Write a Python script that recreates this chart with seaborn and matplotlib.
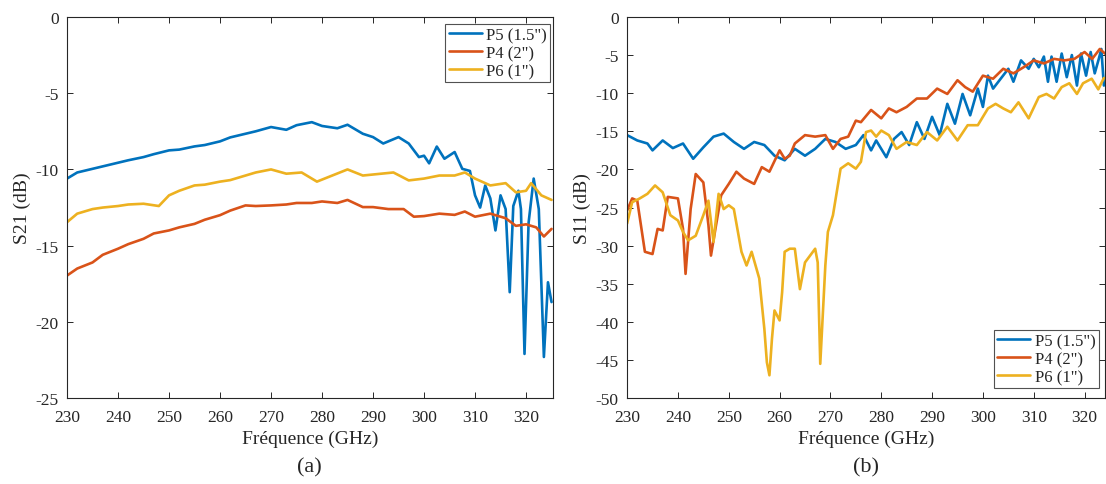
import numpy as np
import pandas as pd
import seaborn as sns
import matplotlib.pyplot as plt

# =========================
# 1. Data
# =========================
# (a) S21
s21_p5_f = [230, 232, 235, 237, 240, 242, 245, 247, 250, 252, 255, 257, 260, 262, 265, 267,
            270, 273, 275, 278, 280, 283, 285, 288, 290, 292, 295, 297, 299, 300, 301, 302.5,
            304, 306, 307.5, 309, 310, 311, 312, 313, 314, 315, 316, 316.8, 317.5, 318.5, 319,
            319.7, 320.5, 321.5, 322.5, 323.5, 324.3, 325]
s21_p5 = [-10.6, -10.2, -9.96, -9.8, -9.56, -9.4, -9.19, -9.0, -8.75, -8.7, -8.49, -8.4, -8.16, -7.9,
          -7.66, -7.5, -7.22, -7.4, -7.1, -6.9, -7.15, -7.3, -7.07, -7.66, -7.88, -8.3, -7.88, -8.3,
          -9.19, -9.1, -9.6, -8.5, -9.3, -8.86, -9.96, -10.1, -11.7, -12.5, -11.05, -11.9, -14.0,
          -11.7, -12.6, -18.05, -12.4, -11.4, -12.6, -22.1, -13.5, -10.6, -12.6, -22.3, -17.4, -18.7]

s21_p4_f = [230, 232, 235, 237, 240, 242, 245, 247, 250, 252, 255, 257, 260, 262, 265, 267, 270,
            273, 275, 278, 280, 283, 285, 288, 290, 293, 296, 298, 300, 303, 306, 308, 310, 313,
            316, 318, 320, 322, 323.5, 325]
s21_p4 = [-16.96, -16.5, -16.1, -15.6, -15.2, -14.9, -14.55, -14.2, -14.0, -13.8, -13.57, -13.3, -13.0,
          -12.7, -12.36, -12.4, -12.36, -12.3, -12.2, -12.2, -12.1, -12.2, -12.0, -12.47, -12.47, -12.6,
          -12.6, -13.1, -13.06, -12.9, -12.98, -12.76, -13.1, -12.9, -13.2, -13.7, -13.6, -13.8, -14.4,
          -13.9]

s21_p6_f = [230, 232, 235, 237, 240, 242, 245, 248, 250, 252, 255, 257, 260, 262, 265, 267, 270,
            273, 276, 279, 282, 285, 288, 291, 294, 297, 300, 303, 306, 308, 310, 313, 316, 318,
            320, 321, 323, 325]
s21_p6 = [-13.46, -12.9, -12.6, -12.5, -12.4, -12.3, -12.25, -12.4, -11.7, -11.4, -11.05, -11.0, -10.8,
          -10.7, -10.4, -10.2, -10.0, -10.28, -10.2, -10.8, -10.4, -10.0, -10.4, -10.3, -10.2, -10.72,
          -10.6, -10.4, -10.4, -10.2, -10.6, -11.05, -10.9, -11.5, -11.4, -10.9, -11.7, -12.0]

# (b) S11
s11_p5_f = [230, 232, 234, 235, 237, 239, 241, 243, 245, 247, 249, 251, 253, 255, 257, 259, 261,
            263, 265, 267, 269, 271, 273, 275, 276.5, 278, 279, 281, 282.5, 284, 285.5, 287, 288.5,
            290, 291.5, 293, 294.5, 296, 297.5, 299, 300, 301, 302, 303.5, 305, 306, 307.5, 309,
            310, 311, 312, 312.8, 313.5, 314.5, 315.5, 316.5, 317.5, 318.5, 319.3, 320.3, 321.2,
            322, 322.8, 323.3, 323.8]
s11_p5 = [-15.5, -16.2, -16.6, -17.5, -16.2, -17.2, -16.6, -18.6, -17.1, -15.7, -15.3, -16.4, -17.3,
          -16.4, -16.8, -18.2, -18.8, -17.3, -18.2, -17.3, -16.0, -16.4, -17.3, -16.8, -15.5, -17.5,
          -16.2, -18.4, -16.0, -15.1, -16.8, -13.8, -16.0, -13.1, -15.5, -11.4, -14.0, -10.1, -12.9,
          -9.4, -11.8, -7.7, -9.4, -8.1, -6.8, -8.5, -5.7, -6.8, -5.5, -6.6, -5.2, -8.5, -5.2, -8.5,
          -4.8, -7.9, -5.0, -9.0, -4.8, -7.7, -4.6, -7.4, -5.5, -4.2, -9.0]

s11_p4_f = [230, 231, 232, 233.5, 235, 236, 237, 238, 240, 241, 241.5, 242.5, 243.5, 245, 246,
            246.5, 247.5, 248.5, 250, 251.5, 253, 255, 256.5, 258, 260, 261, 262, 263, 265, 267,
            269, 270.5, 272, 273.5, 275, 276, 278, 280, 281.5, 283, 285, 287, 289, 291, 293, 295,
            296.5, 298, 300, 302, 304, 306, 308, 310, 312, 314, 316, 318, 320, 321.5, 323, 324]
s11_p4 = [-25.4, -23.8, -24.1, -30.8, -31.1, -27.8, -28.0, -23.6, -23.8, -27.8, -33.7, -25.2, -20.6,
          -21.7, -27.3, -31.3, -27.3, -23.4, -21.9, -20.3, -21.2, -21.9, -19.7, -20.3, -17.5, -18.6,
          -18.2, -16.6, -15.5, -15.7, -15.5, -17.3, -16.0, -15.7, -13.6, -13.8, -12.2, -13.3, -12.0,
          -12.5, -11.8, -10.7, -10.7, -9.4, -10.1, -8.3, -9.2, -9.8, -7.7, -8.1, -6.8, -7.4, -6.6,
          -5.7, -6.1, -5.5, -5.7, -5.5, -4.6, -5.5, -4.2, -4.8]

s11_p6_f = [230, 231, 232.5, 234, 235.5, 237, 238.5, 240, 241, 242, 243.5, 245, 246, 247, 248, 249,
            250, 251, 252.5, 253.5, 254.5, 256, 257, 257.5, 258, 258.5, 259, 260, 260.5, 261, 262,
            263, 264, 265, 266, 267, 267.5, 268, 269, 269.5, 270.5, 272, 273.5, 275, 276, 277, 278,
            279, 280, 281.5, 283, 285, 287, 289, 291, 293, 295, 297, 299, 301, 302.5, 304, 305.5,
            307, 309, 311, 312.5, 314, 315.5, 317, 318.5, 319.7, 321.4, 322.7, 323.8]
s11_p6 = [-27.1, -24.3, -23.8, -23.2, -22.1, -23.0, -26.0, -26.7, -28.2, -29.3, -28.7, -26.0, -24.1,
          -29.5, -23.2, -25.2, -24.7, -25.2, -30.8, -32.6, -30.8, -34.3, -40.9, -45.3, -47.0, -42.2,
          -38.5, -39.8, -36.1, -30.8, -30.4, -30.4, -35.7, -32.2, -31.3, -30.4, -32.2, -45.5, -32.6,
          -28.2, -26.0, -19.9, -19.2, -19.9, -19.0, -15.1, -14.9, -15.7, -14.9, -15.5, -17.3, -16.4,
          -16.8, -15.1, -16.2, -14.4, -16.2, -14.2, -14.2, -12.0, -11.4, -12.0, -12.5, -11.2, -13.3,
          -10.5, -10.1, -10.7, -9.2, -8.7, -10.1, -8.7, -8.1, -9.5, -8.0]

labels = ['P5 (1.5")', 'P4 (2")', 'P6 (1")']
colors = ["#0072BD", "#D95319", "#EDB120"]

# =========================
# 2. Style
# =========================
sns.set_theme(style="ticks")
plt.rcParams['font.family'] = ['Liberation Serif', 'DejaVu Serif']
plt.rcParams['axes.unicode_minus'] = False
plt.rcParams['xtick.direction'] = "in"
plt.rcParams['ytick.direction'] = "in"
plt.rcParams['axes.edgecolor'] = "#262626"
plt.rcParams['axes.linewidth'] = 0.8

fig = plt.figure(figsize=(11.06, 4.85), dpi=100)
ax1 = fig.add_axes([0.0606, 0.177, 0.439, 0.786])
ax2 = fig.add_axes([0.567, 0.177, 0.432, 0.786])

panels = [
    (ax1, [(s21_p5_f, s21_p5), (s21_p4_f, s21_p4), (s21_p6_f, s21_p6)], "S21 (dB)",
     (-25, 0), np.arange(-25, 1, 5), (230, 325.2), "upper right", (0.995, 0.982), "(a)"),
    (ax2, [(s11_p5_f, s11_p5), (s11_p4_f, s11_p4), (s11_p6_f, s11_p6)], "S11 (dB)",
     (-50, 0), np.arange(-50, 1, 5), (230, 324), "lower right", (0.987, 0.026), "(b)"),
]

for ax, series, ylab, ylim, yticks, xlim, loc, anchor, tag in panels:
    for (f, v), lab, c in zip(series, labels, colors):
        sns.lineplot(x=f, y=v, ax=ax, color=c, label=lab, linewidth=1.9)
    ax.set_xlim(*xlim)
    ax.set_ylim(*ylim)
    ax.set_yticks(yticks)
    ax.set_xticks(np.arange(230, 321, 10))
    ax.tick_params(top=True, right=True, labelsize=12.5, colors="#262626", length=4, width=0.7)
    ax.tick_params(axis="x", pad=8)
    ax.tick_params(axis="y", pad=6)
    ax.set_xlabel("Fréquence (GHz)", fontsize=14, color="#262626", labelpad=3)
    ax.set_ylabel(ylab, fontsize=14, color="#262626", labelpad=3)
    leg = ax.legend(loc=loc, bbox_to_anchor=anchor, borderaxespad=0, fontsize=12,
                    frameon=True, fancybox=False, borderpad=0.2, handlelength=2.0,
                    handletextpad=0.25, labelspacing=0.12)
    leg.get_frame().set_edgecolor("#262626")
    leg.get_frame().set_linewidth(0.8)
    ax.text(0.5, -0.181, tag, transform=ax.transAxes, ha="center", va="center", fontsize=16)

plt.savefig("out.png", dpi=100)
